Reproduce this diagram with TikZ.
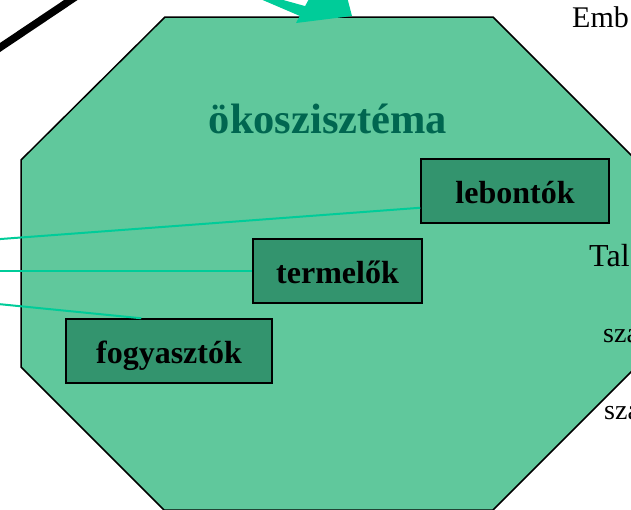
\documentclass[tikz,border=0pt]{standalone}
\usepackage{fontspec}
\setmainfont{Liberation Serif}
\definecolor{octfill}{RGB}{96,200,156}
\definecolor{boxgreen}{RGB}{51,148,110}
\definecolor{titlegreen}{RGB}{0,102,80}
\definecolor{linkteal}{RGB}{0,204,153}
\begin{document}
\begin{tikzpicture}[x=1pt,y=-1pt,
  box/.style={draw=black, line width=1.5pt, fill=boxgreen, inner sep=0pt,
    minimum height=64pt, text height=24pt, text depth=0pt,
    font=\fontsize{32}{32}\selectfont\bfseries},
  link/.style={draw=linkteal, line width=2pt},
  side/.style={anchor=base west, inner sep=0pt, font=\fontsize{30}{30}\selectfont},
  octagon/.style={draw=black, line width=1.5pt, fill=octfill}]
\useasboundingbox (0,0) rectangle (631,509);
\clip (0,0) rectangle (631,509);
% ecosystem octagon
\draw[octagon] (165,17) -- (493,17) -- (636,160) -- (636,367) -- (493,510)
  -- (164,510) -- (21,367) -- (21,160) -- cycle;
% black thick line at top-left
\coordinate (bl1) at (-10,54.2);
\coordinate (bl2) at (85,-9.5);
\draw[line width=7.5pt] (bl1) -- (bl2);
% teal arrow at top
\fill[linkteal] (258,-2) -- (276,-2) -- (312,8) -- (300,16) -- cycle;
\fill[linkteal] (296,23) -- (352,16) -- (347,-3) -- (310,-3) -- cycle;
% title
\node[anchor=base, inner sep=0pt, text=titlegreen,
  font=\fontsize{42.5}{42.5}\selectfont\bfseries] (title) at (328,133) {ökoszisztéma};
% boxes
\node[box, minimum width=188pt] (lebontok) at (515,191) {lebontók};
\node[box, minimum width=169pt] (termelok) at (337.5,271) {termelők};
\node[box, minimum width=206pt] (fogyasztok) at (169,351) {fogyasztók};
% connectors
\coordinate (l1) at (-2,239.2);
\coordinate (l2) at (-2,271);
\coordinate (l3) at (-2,304);
\draw[link] (l1) -- ([yshift=16pt]lebontok.south west);
\draw[link] (l2) -- (termelok.west);
\draw[link] (l3) -- ([xshift=76pt]fogyasztok.north west);
% cut-off texts on the right
\node[side] (emb) at (572,27) {Emb};
\node[side, font=\fontsize{32}{32}\selectfont] (tal) at (589,266) {Tal};
\node[side, font=\fontsize{28}{28}\selectfont] (sza1) at (603,342) {sza};
\node[side, font=\fontsize{28}{28}\selectfont] (sza2) at (604,419) {sza};
\end{tikzpicture}
\end{document}
